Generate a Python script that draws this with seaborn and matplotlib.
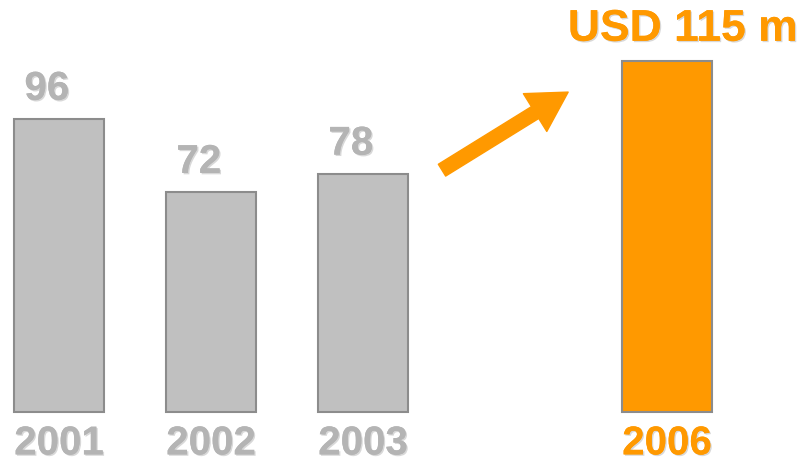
import matplotlib
matplotlib.use("Agg")
import matplotlib.pyplot as plt
import matplotlib.patheffects as pe
import seaborn as sns

# --- дані ---
years = ["2001", "2002", "2003", "2006"]
positions = [0, 1, 2, 4]
values = [96, 72, 78, 115]
value_labels = ["96", "72", "78", "USD 115 m"]

GRAY = "#C0C0C0"
GRAY_TEXT = "#B4B4B4"
EDGE = "#8C8C8C"
ORANGE = "#FF9900"

sns.set_theme(style="white")
plt.rcParams["font.family"] = ["Liberation Sans", "DejaVu Sans"]

fig = plt.figure(figsize=(8.03, 4.61), dpi=100)
ax = fig.add_axes([0, 0, 1, 1])

sns.barplot(x=positions, y=values, native_scale=True, width=0.592,
            color=GRAY, edgecolor=EDGE, linewidth=1.5, saturation=1, ax=ax)
ax.patches[-1].set_facecolor(ORANGE)

ax.set_xlim(-0.388, 4.895)
ax.set_ylim(-16.07, 135.1)
ax.axis("off")

shadow = [pe.withSimplePatchShadow(offset=(1.0, -1.0), shadow_rgbFace="#808080", alpha=0.3),
          pe.Normal()]

# підписи значень
for i, (p, v, lab) in enumerate(zip(positions, values, value_labels)):
    last = i == len(values) - 1
    ax.text(p + (0.105 if last else -0.08), v + (10.5 if last else 10), lab,
            ha="center", va="center", fontsize=32 if last else 29, fontweight="bold",
            color=ORANGE if last else GRAY_TEXT, path_effects=shadow)

# роки під стовпцями
for i, (p, y) in enumerate(zip(positions, years)):
    last = i == len(years) - 1
    ax.text(p, -10.3, y, ha="center", va="center", fontsize=29, fontweight="bold",
            color=ORANGE if last else GRAY_TEXT, path_effects=shadow)

# стрілка росту
ax.annotate("", xy=(3.35, 104.9), xytext=(2.52, 79.3),
            arrowprops=dict(arrowstyle="simple,head_length=1.4,head_width=1.6,tail_width=0.5",
                            color=ORANGE, mutation_scale=20, shrinkA=0, shrinkB=0))

fig.savefig("out.png", dpi=100)
